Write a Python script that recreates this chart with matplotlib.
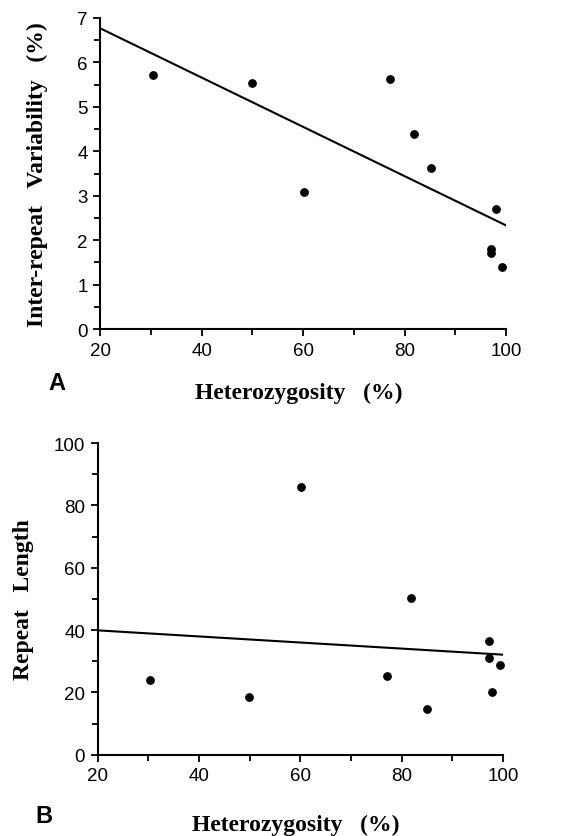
import matplotlib
matplotlib.use("Agg")
import matplotlib.pyplot as plt
import numpy as np
from matplotlib.ticker import MultipleLocator

# data
het_a = [30.4, 50.0, 60.1, 77.1, 81.9, 85.2, 97.9, 97.0, 97.0, 99.2]
var_a = [5.71, 5.53, 3.08, 5.62, 4.40, 3.62, 2.71, 1.80, 1.71, 1.40]
fit_a_x = [20, 100]
fit_a_y = [6.77, 2.33]

het_b = [30.3, 49.8, 60.2, 77.1, 81.9, 85.1, 97.3, 97.3, 97.9, 99.5]
len_b = [24.0, 18.6, 85.8, 25.2, 50.3, 14.8, 36.6, 30.9, 20.0, 28.9]
fit_b_x = [20, 100]
fit_b_y = [39.9, 32.1]

x_ticks = [20, 40, 60, 80, 100]

sans = "Liberation Sans"
serif = "Liberation Serif"

fig = plt.figure(figsize=(5.65, 8.37), dpi=100)
ax1 = fig.add_axes([0.177, 0.6057, 0.719, 0.3716])
ax2 = fig.add_axes([0.173, 0.0971, 0.717, 0.3724])


def style(ax):
    for s in ["top", "right"]:
        ax.spines[s].set_visible(False)
    for s in ["left", "bottom"]:
        ax.spines[s].set_linewidth(1.5)
    ax.tick_params(which="both", direction="out", width=1.3, length=5,
                   labelsize=13.5, pad=4)
    ax.tick_params(which="minor", length=4)
    for lab in ax.get_xticklabels() + ax.get_yticklabels():
        lab.set_fontfamily(sans)
    ax.set_xlim(20, 100)
    ax.set_xticks(x_ticks)
    ax.xaxis.set_minor_locator(MultipleLocator(10))


# panel A
ax1.plot(fit_a_x, fit_a_y, color="black", lw=1.5)
ax1.scatter(het_a, var_a, s=28, color="black", zorder=3, clip_on=False)
ax1.set_ylim(0, 7)
ax1.set_yticks(range(0, 8))
ax1.yaxis.set_minor_locator(MultipleLocator(0.5))
style(ax1)
ax1.set_xlabel("Heterozygosity   (%)", fontfamily=serif, fontweight="bold",
               fontsize=17, va="center")
ax1.xaxis.set_label_coords(0.49, -0.203)
ax1.set_ylabel("Inter-repeat   Variability   (%)", fontfamily=serif,
               fontweight="bold", fontsize=17, va="center")
ax1.yaxis.set_label_coords(-0.155, 0.5)
fig.text(0.085, 1 - 390 / 837, "A", fontfamily=sans, fontweight="bold",
         fontsize=17, va="baseline")

# panel B
ax2.plot(fit_b_x, fit_b_y, color="black", lw=1.5)
ax2.scatter(het_b, len_b, s=28, color="black", zorder=3, clip_on=False)
ax2.set_ylim(0, 100)
ax2.set_yticks(range(0, 101, 20))
ax2.yaxis.set_minor_locator(MultipleLocator(10))
style(ax2)
ax2.set_xlabel("Heterozygosity   (%)", fontfamily=serif, fontweight="bold",
               fontsize=17, va="center")
ax2.xaxis.set_label_coords(0.49, -0.225)
ax2.set_ylabel("Repeat   Length", fontfamily=serif, fontweight="bold",
               fontsize=17, va="center")
ax2.yaxis.set_label_coords(-0.184, 0.5)
fig.text(0.062, 1 - 823 / 837, "B", fontfamily=sans, fontweight="bold",
         fontsize=17, va="baseline")

fig.savefig("out.png", dpi=100)
